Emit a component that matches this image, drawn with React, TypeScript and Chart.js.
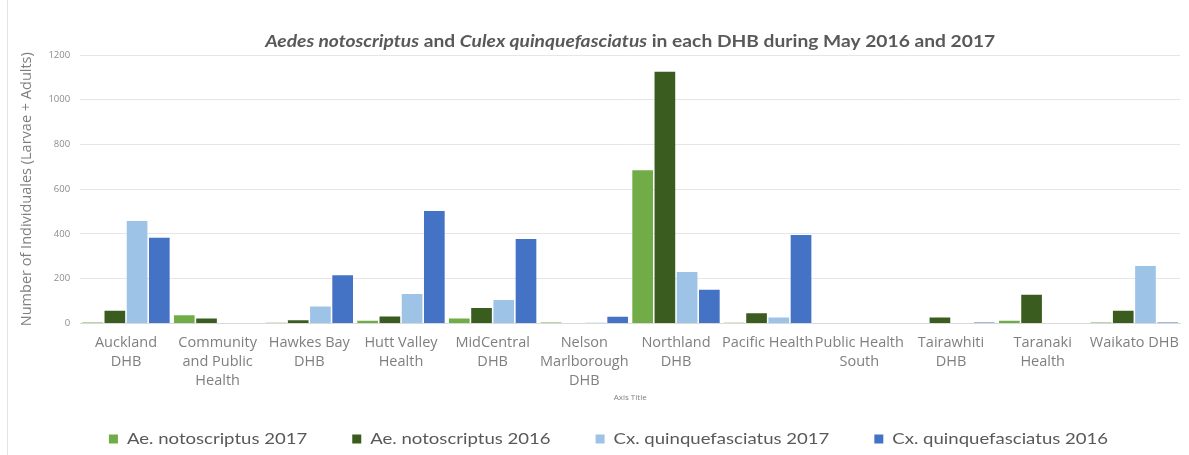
import React, { useEffect, useRef } from "react";
import { Chart, registerables } from "chart.js";

Chart.register(...registerables);

const categories: string[][] = [
  ["Auckland", "DHB"],
  ["Community", "and Public", "Health"],
  ["Hawkes Bay", "DHB"],
  ["Hutt Valley", "Health"],
  ["MidCentral", "DHB"],
  ["Nelson", "Marlborough", "DHB"],
  ["Northland", "DHB"],
  ["Pacific Health"],
  ["Public Health", "South"],
  ["Tairawhiti", "DHB"],
  ["Taranaki", "Health"],
  ["Waikato DHB"],
];

const aeNoto2017 = [4, 37, 3, 12, 22, 4, 685, 3, 0, 0, 12, 4];
const aeNoto2016 = [57, 22, 14, 31, 69, 0, 1125, 46, 0, 27, 128, 57];
const cxQuinq2017 = [458, 0, 76, 132, 105, 3, 230, 27, 0, 0, 0, 257];
const cxQuinq2016 = [383, 0, 215, 503, 377, 30, 150, 395, 0, 4, 0, 4];

const seriesLabels = [
  "Ae. notoscriptus 2017",
  "Ae. notoscriptus 2016",
  "Cx. quinquefasciatus 2017",
  "Cx. quinquefasciatus 2016",
];
const seriesColors = ["#70AD47", "#3A5D1F", "#9DC3E6", "#4472C4"];

const yTicks = [0, 200, 400, 600, 800, 1000, 1200];

const titleParts = [
  { text: "Aedes notoscriptus", italic: true },
  { text: " and ", italic: false },
  { text: "Culex quinquefasciatus", italic: true },
  { text: " in each DHB during May 2016 and 2017", italic: false },
];

const yAxisTitle = "Number of Individuales (Larvae + Adults)";
const xAxisTitle = "Axis Title";

const FONT = "Lato, 'Open Sans', sans-serif";
const TICK_FONT = "'Open Sans', sans-serif";

const decorPlugin = {
  id: "decor",
  afterDraw(chart: any) {
    const ctx = chart.ctx as CanvasRenderingContext2D;
    const area = chart.chartArea;
    ctx.save();

    // Title with mixed italic parts
    const size = 17;
    let total = 0;
    const widths = titleParts.map((p) => {
      ctx.font = `${p.italic ? "italic " : ""}bold ${size}px ${FONT}`;
      const w = ctx.measureText(p.text).width;
      total += w;
      return w;
    });
    const targetTitle = 730;
    const tsx = targetTitle / total;
    const cx = (area.left + area.right) / 2;
    ctx.fillStyle = "#595959";
    ctx.textBaseline = "middle";
    ctx.textAlign = "left";
    ctx.save();
    ctx.translate(cx - targetTitle / 2, 42);
    ctx.scale(tsx, 1);
    let x = 0;
    titleParts.forEach((p, i) => {
      ctx.font = `${p.italic ? "italic " : ""}bold ${size}px ${FONT}`;
      ctx.fillText(p.text, x, 0);
      x += widths[i];
    });
    ctx.restore();

    // Legend
    const lsx = 1.16;
    ctx.font = `16px ${FONT}`;
    const box = 9;
    const boxGap = 9;
    const itemGap = 45;
    const lw = seriesLabels.map((t) => ctx.measureText(t).width * lsx);
    const ltotal = lw.reduce((a, b) => a + b + box + boxGap, 0) + itemGap * (seriesLabels.length - 1);
    let lx = chart.width / 2 + 14 - ltotal / 2;
    const ly = 439;
    seriesLabels.forEach((t, i) => {
      ctx.fillStyle = seriesColors[i];
      ctx.fillRect(lx, ly - box / 2, box, box);
      ctx.fillStyle = "#595959";
      ctx.save();
      ctx.translate(lx + box + boxGap, ly);
      ctx.scale(lsx, 1);
      ctx.fillText(t, 0, 0);
      ctx.restore();
      lx += box + boxGap + lw[i] + itemGap;
    });

    // frame line on the left
    ctx.strokeStyle = "#e3e3e3";
    ctx.lineWidth = 1;
    ctx.beginPath();
    ctx.moveTo(7.5, 0);
    ctx.lineTo(7.5, chart.height);
    ctx.stroke();
    ctx.restore();
  },
};

export default function App() {
  const canvasRef = useRef<HTMLCanvasElement | null>(null);

  useEffect(() => {
    if (!canvasRef.current) return;
    const chart = new Chart(canvasRef.current, {
      type: "bar",
      data: {
        labels: categories,
        datasets: [aeNoto2017, aeNoto2016, cxQuinq2017, cxQuinq2016].map((d, i) => ({
          label: seriesLabels[i],
          data: d,
          backgroundColor: seriesColors[i],
          borderWidth: 0,
          barPercentage: 0.93,
          categoryPercentage: 0.97,
        })),
      },
      options: {
        animation: false,
        responsive: true,
        maintainAspectRatio: false,
        layout: { padding: { top: 55, left: 18, right: 3, bottom: 52 } },
        plugins: {
          title: { display: false },
          tooltip: { enabled: false },
          legend: { display: false },
        },
        scales: {
          x: {
            grid: { display: false, drawTicks: false },
            border: { display: true, color: "#d9d9d9" },
            ticks: {
              color: "#7f7f7f",
              font: { family: TICK_FONT, size: 14.5, lineHeight: 1.31 },
              padding: 10,
              maxRotation: 0,
              autoSkip: false,
            },
            title: {
              display: true,
              text: xAxisTitle,
              color: "#7f7f7f",
              font: { family: TICK_FONT, size: 8 },
              padding: { top: -7, bottom: 0 },
            },
          },
          y: {
            min: 0,
            max: 1200,
            afterBuildTicks: (axis: any) => {
              axis.ticks = yTicks.map((v) => ({ value: v }));
            },
            grid: { color: "#e6e6e6", drawTicks: false },
            border: { display: false },
            ticks: {
              color: "#8c8c8c",
              font: { family: TICK_FONT, size: 9.5 },
              padding: 10,
              callback: (v: any) => String(v),
            },
            title: {
              display: true,
              text: yAxisTitle,
              color: "#7f7f7f",
              font: { family: TICK_FONT, size: 14.5 },
              padding: { top: 0, bottom: 3 },
            },
          },
        },
      },
      plugins: [decorPlugin],
    });
    return () => chart.destroy();
  }, []);

  return (
    <div style={{ position: "absolute", left: 0, top: 0, width: 1189, height: 455, background: "#fff" }}>
      <canvas ref={canvasRef} />
    </div>
  );
}
